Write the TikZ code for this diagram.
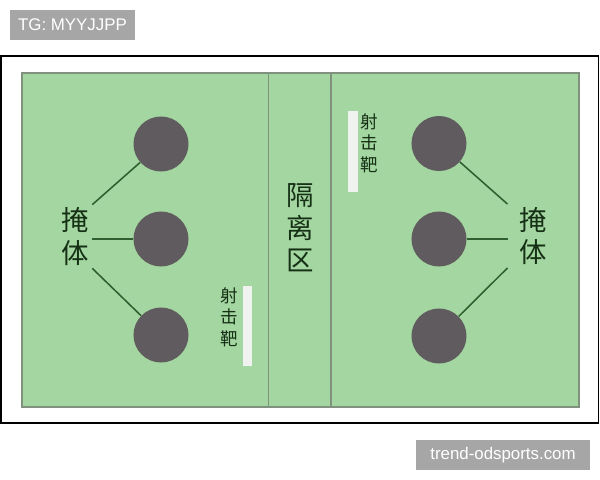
\documentclass[tikz,border=0pt]{standalone}
\usepackage{fontspec}
\setmainfont{Liberation Sans}
\newfontfamily\cjk{Noto Sans CJK SC}
\definecolor{fieldGreen}{RGB}{163,214,160}
\definecolor{fieldEdge}{RGB}{128,146,126}
\definecolor{coverGray}{RGB}{96,91,94}
\definecolor{lineGreen}{RGB}{48,94,48}
\definecolor{labelDark}{RGB}{22,48,22}
\definecolor{barWhite}{RGB}{240,242,240}
\definecolor{tagGray}{RGB}{166,166,166}

\begin{document}
\begin{tikzpicture}[x=0.025cm,y=-0.025cm,
                    cover/.style={circle,fill=coverGray,minimum size=1.375cm,inner sep=0pt},
                    big label/.style={font=\cjk\fontsize{19.5}{23}\selectfont,text=labelDark,align=center,inner sep=2pt},
                    target label/.style={font=\cjk\fontsize{12.5}{15.3}\selectfont,text=labelDark,align=center,inner sep=1pt},
                    tag box/.style={fill=tagGray,text=white,font=\fontsize{12}{14}\selectfont,
                                    inner sep=0pt,minimum height=0.75cm}]

  \useasboundingbox (0,0) rectangle (600,480);

  % frame, field and the two dividing lines
  \draw[line width=1.2pt] (1,56) rectangle (598.5,423);
  \draw[fieldEdge,fill=fieldGreen,line width=0.8pt] (22,73) rectangle (579,407);
  \draw[fieldEdge,line width=0.8pt] (268.5,73) -- (268.5,407);
  \draw[fieldEdge,line width=0.8pt] (331,73) -- (331,407);

  % shooting targets
  \fill[barWhite] (243,286) rectangle (252,366);
  \fill[barWhite] (348,111) rectangle (357.5,192);
  \node[target label] (ltarget) at (229,317) {射\\击\\靶};
  \node[target label] (rtarget) at (369,143) {射\\击\\靶};

  \node[big label] (zone) at (300,228) {隔\\离\\区};

  % covers
  \node[cover] (l1) at (161,144) {};
  \node[cover] (l2) at (161,239) {};
  \node[cover] (l3) at (161,335) {};
  \node[cover] (r1) at (439,143.5) {};
  \node[cover] (r2) at (439,239) {};
  \node[cover] (r3) at (439,336) {};

  \node[big label] (lcover) at (75.5,236.5) {掩\\体};
  \node[big label,inner xsep=8.5pt] (rcover) at (533.5,236) {掩\\体};

  \path[every edge/.style={draw=lineGreen,line width=1.1pt}]
    (lcover.north east)  edge (l1)
    (lcover.east |- l2)  edge (l2)
    (lcover.south east)  edge (l3)
    (rcover.north west)  edge (r1)
    (rcover.west |- r2)  edge (r2)
    (rcover.south west)  edge (r3);

  % watermarks
  \node[tag box,minimum width=3.125cm] (tg) at (72.5,25) {TG: MYYJJPP};
  \node[tag box,minimum width=4.35cm] (site) at (503,455) {trend-odsports.com};

\end{tikzpicture}
\end{document}
